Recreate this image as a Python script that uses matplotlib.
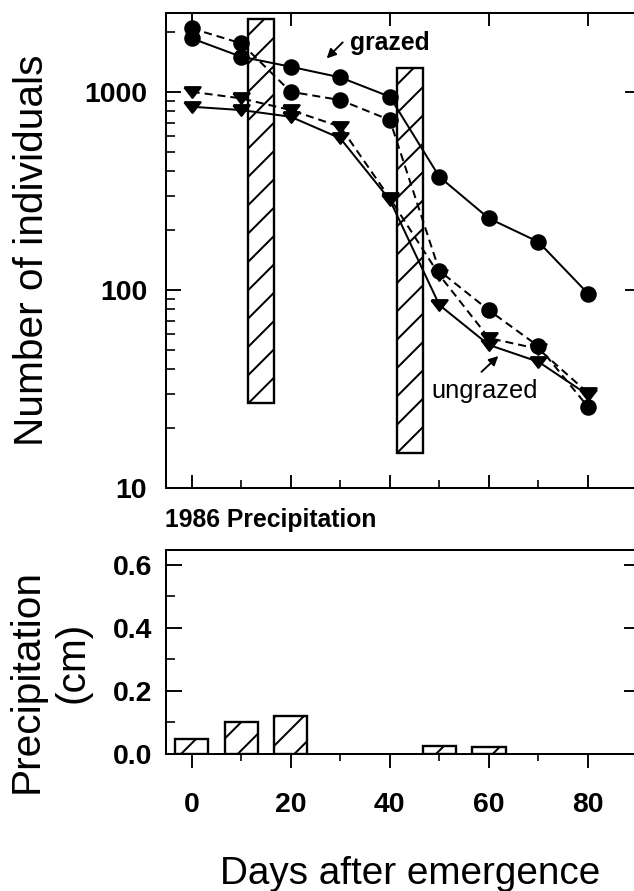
import matplotlib
matplotlib.use('Agg')
import matplotlib.pyplot as plt
from matplotlib.ticker import FixedLocator, FixedFormatter, NullFormatter
import numpy as np

# ---------------- data ----------------
days = [0, 10, 20, 30, 40, 50, 60, 70, 80]
circles_solid = [1867, 1508, 1342, 1186, 947, 373, 230, 175, 96]
circles_dashed = [2097, 1762, 1003, 911, 722, 125, 79, 52, 25.7]
triangles_solid = [843, 811, 750, 584, 285, 84, 52.8, 43.4, 29.5]
triangles_dashed = [1003, 929, 811, 668, 291, 119, 57.2, 50.4, 30.2]

event_days = [14, 44]
event_low = [26.9, 15.1]
event_high = [2337, 1322]

precip_days = [0, 10, 20, 50, 60]
precip_cm = [0.047, 0.102, 0.121, 0.025, 0.023]

x_major = [0, 20, 40, 60, 80]
x_minor = [10, 30, 50, 70]
y1_major = [10, 100, 1000]
y1_labels = ['10', '100', '1000']
y2_major = [0.0, 0.2, 0.4, 0.6]
y2_labels = ['0.0', '0.2', '0.4', '0.6']
y2_minor = [0.1, 0.3, 0.5]

# ---------------- style ----------------
DPI = 170
W, H = 634, 891
plt.rcParams['font.family'] = ['Liberation Sans', 'DejaVu Sans']
plt.rcParams['hatch.linewidth'] = 0.85
plt.rcParams['lines.scale_dashes'] = False
plt.rcParams['axes.linewidth'] = 0.85

fig = plt.figure(figsize=(W / DPI, H / DPI), dpi=DPI)

def px_axes(left, top, right, bottom):
    return fig.add_axes([left / W, 1 - bottom / H, (right - left) / W, (bottom - top) / H])

ax1 = px_axes(166, 13, 640, 488)
ax2 = px_axes(166, 550, 640, 754)

xlim = (-5.19, 90.5)

# ---------------- top panel ----------------
ax1.set_yscale('log')
ax1.bar(event_days, np.subtract(event_high, event_low), bottom=event_low, width=5.3,
        facecolor='white', edgecolor='black', hatch='//', linewidth=1.0, zorder=1)

tri = [(-1, 0.65), (1, 0.65), (0, -0.65), (-1, 0.65)]
dash = (0, (3.4, 2.1))
lw = 0.85
ax1.plot(days, circles_solid, color='k', lw=lw, marker='o', ms=6.0, zorder=3)
ax1.plot(days, circles_dashed, color='k', lw=lw, ls=dash, marker='o', ms=6.0, zorder=3)
ax1.plot(days, triangles_solid, color='k', lw=lw, marker=tri, ms=6.8, zorder=3)
ax1.plot(days, triangles_dashed, color='k', lw=lw, ls=dash, marker=tri, ms=6.8, zorder=3)

ax1.set_xlim(*xlim)
ax1.set_ylim(10, 2508)
ax1.yaxis.set_major_locator(FixedLocator(y1_major))
ax1.yaxis.set_major_formatter(FixedFormatter(y1_labels))
y1_minor = [m * d for d in (10, 100) for m in range(2, 10)] + [2000]
ax1.yaxis.set_minor_locator(FixedLocator(y1_minor))
ax1.yaxis.set_minor_formatter(NullFormatter())
ax1.xaxis.set_major_locator(FixedLocator(x_major))
ax1.xaxis.set_minor_locator(FixedLocator(x_minor))
ax1.tick_params(axis='y', which='major', direction='in', left=True, right=True,
                length=6.3, width=0.8, labelsize=12, pad=8)
ax1.tick_params(axis='y', which='minor', direction='in', left=True, right=False,
                length=4.0, width=0.7)
ax1.tick_params(axis='x', which='major', direction='in', bottom=True, top=True,
                length=5.5, width=0.8, labelbottom=False)
ax1.tick_params(axis='x', which='minor', direction='in', bottom=True, top=False,
                length=3.5, width=0.7)
for t in ax1.get_yticklabels():
    t.set_fontweight('bold')

ax1.text(31.95, 1630, 'grazed', fontsize=10.5, fontweight='bold', va='baseline', ha='left')
ax1.text(48.45, 28.5, 'ungrazed', fontsize=10.8, va='baseline', ha='left')
arrow = dict(arrowstyle='-|>', color='k', lw=0.8, mutation_scale=8, shrinkA=0, shrinkB=0)
ax1.annotate('', xy=(27.25, 1479), xytext=(30.48, 1783), arrowprops=arrow)
ax1.annotate('', xy=(61.9, 46.4), xytext=(58.5, 38.6), arrowprops=arrow)

# ---------------- bottom panel ----------------
ax2.bar(precip_days, precip_cm, width=6.7, facecolor='white', edgecolor='black',
        hatch='//', linewidth=1.0, zorder=1)
ax2.set_xlim(*xlim)
ax2.set_ylim(0, 0.6476)
ax2.yaxis.set_major_locator(FixedLocator(y2_major))
ax2.yaxis.set_major_formatter(FixedFormatter(y2_labels))
ax2.yaxis.set_minor_locator(FixedLocator(y2_minor))
ax2.yaxis.set_minor_formatter(NullFormatter())
ax2.xaxis.set_major_locator(FixedLocator(x_major))
ax2.xaxis.set_major_formatter(FixedFormatter([str(v) for v in x_major]))
ax2.xaxis.set_minor_locator(FixedLocator(x_minor))
ax2.tick_params(axis='y', which='major', direction='in', left=True, right=True,
                length=6.8, width=0.8, labelsize=12, pad=6)
ax2.tick_params(axis='y', which='minor', direction='in', left=True, right=False,
                length=3.8, width=0.7)
ax2.tick_params(axis='x', which='major', direction='out', bottom=True, top=False,
                length=6.0, width=0.8, labelsize=12, pad=10)
ax2.tick_params(axis='x', which='minor', direction='out', bottom=True, top=False,
                length=2.8, width=0.7)
for t in ax2.get_yticklabels() + ax2.get_xticklabels():
    t.set_fontweight('bold')

# ---------------- figure texts ----------------
fig.text(32 / W, 1 - 250 / H, 'Number of individuals', rotation=90, ha='center',
         va='center', fontsize=17.2)
fig.text(27 / W, 1 - 681 / H, 'Precipitation', rotation=90, ha='center',
         va='center', fontsize=17.2)
fig.text(72 / W, 1 - 662 / H, '(cm)', rotation=90, ha='center', va='center',
         fontsize=17.2)
fig.text(410 / W, 1 - 884 / H, 'Days after emergence', ha='center', va='baseline',
         fontsize=16.4)
fig.text(165 / W, 1 - 527 / H, '1986 Precipitation', ha='left', va='baseline',
         fontsize=10.5, fontweight='bold')

fig.savefig('out.png', dpi=DPI)
